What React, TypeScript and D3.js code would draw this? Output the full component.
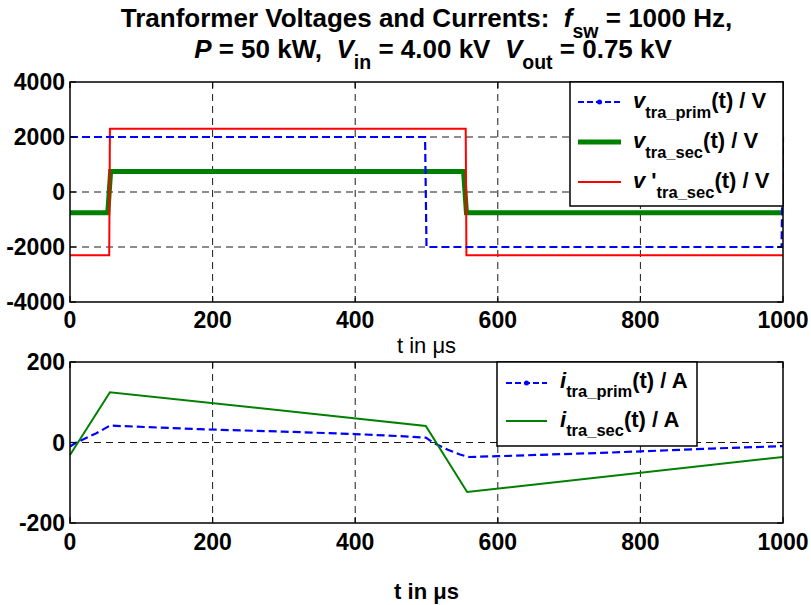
import React from 'react';
import * as d3 from 'd3';

const W = 811;
const H = 605;
const FONT = '"Liberation Sans", Arial, Helvetica, sans-serif';

// upper axes: transformer voltages in V over t in us
const tVPrim = [0, 498, 500, 998, 1000];
const vPrim = [2000, 2000, -2000, -2000, 2000];
const tVSec = [0, 53, 57, 552, 556, 1000];
const vSec = [-750, -750, 750, 750, -750, -750];
const tVSecRef = [0, 55, 56, 555, 556, 1000];
const vSecRef = [-2300, -2300, 2300, 2300, -2300, -2300];

// lower axes: transformer currents in A
const tIPrim = [0, 9, 37, 56, 112, 182, 300, 400, 460, 499, 509, 530, 547, 560, 600, 743, 900, 1000];
const iPrim = [-10, 0, 23, 42, 38, 33, 27, 21, 16, 12, 0, -18, -30, -36, -34, -26, -15, -9];
const tISec = [0, 56, 499, 557, 1000];
const iSec = [-31, 125, 41, -123, -36];

const xTicks = [0, 200, 400, 600, 800, 1000];
const vTicks = [-4000, -2000, 0, 2000, 4000];
const iTicks = [-200, 0, 200];

const x = d3.scaleLinear().domain([0, 1000]).range([70, 783]);
const yV = d3.scaleLinear().domain([-4000, 4000]).range([302, 82]);
const yI = d3.scaleLinear().domain([-200, 200]).range([523, 362]);

function path(t: number[], v: number[], y: d3.ScaleLinear<number, number>) {
  const line = d3.line<number>().x((_, i) => x(t[i])).y(d => y(d));
  return line(v) || '';
}

function Frame({ y, ticks, labelY }: { y: d3.ScaleLinear<number, number>; ticks: number[]; labelY: number }) {
  const [x0, x1] = x.range();
  const [y1, y0] = y.range();
  const tl = 6;
  return (
    <g>
      <rect x={x0} y={y0} width={x1 - x0} height={y1 - y0} fill="none" stroke="#000" strokeWidth={1.5} />
      {xTicks.map(t => (
        <g key={'x' + t}>
          <line x1={x(t)} x2={x(t)} y1={y1} y2={y1 - tl} stroke="#000" strokeWidth={1.2} />
          <line x1={x(t)} x2={x(t)} y1={y0} y2={y0 + tl} stroke="#000" strokeWidth={1.2} />
          <text x={x(t)} y={labelY} textAnchor="middle" fontSize={23} fontWeight="bold">{t}</text>
        </g>
      ))}
      {ticks.map(v => (
        <g key={'y' + v}>
          <line x1={x0} x2={x0 + tl} y1={y(v)} y2={y(v)} stroke="#000" strokeWidth={1.2} />
          <line x1={x1} x2={x1 - tl} y1={y(v)} y2={y(v)} stroke="#000" strokeWidth={1.2} />
          <text x={65} y={y(v)} dy="0.36em" textAnchor="end" fontSize={23} fontWeight="bold">{v}</text>
        </g>
      ))}
    </g>
  );
}

function Grid({ y, ticks }: { y: d3.ScaleLinear<number, number>; ticks: number[] }) {
  const [x0, x1] = x.range();
  const [y1, y0] = y.range();
  return (
    <g stroke="#000" strokeWidth={0.9} strokeDasharray="7,5">
      {xTicks.slice(1, -1).map(t => (
        <line key={'gx' + t} x1={x(t)} x2={x(t)} y1={y0} y2={y1} />
      ))}
      {ticks.slice(1, -1).map(v => (
        <line key={'gy' + v} x1={x0} x2={x1} y1={y(v)} y2={y(v)} />
      ))}
    </g>
  );
}

export default function App() {
  const sub = 10;
  const tSub = 11;
  return (
    <svg width={W} height={H} style={{ position: 'absolute', left: 0, top: 0, background: '#fff' }}
      fontFamily={FONT}>
      {/* title */}
      <text x={426.5} y={27} textAnchor="middle" fontSize={26} fontWeight="bold" style={{ whiteSpace: 'pre' }}>
        <tspan>{'Tranformer Voltages and Currents:  '}</tspan>
        <tspan fontStyle="italic">f</tspan>
        <tspan fontSize={19.5} dy={tSub}>sw</tspan>
        <tspan dy={-tSub}>{' = 1000 Hz,'}</tspan>
      </text>
      <text x={433} y={58} textAnchor="middle" fontSize={26} fontWeight="bold" style={{ whiteSpace: 'pre' }}>
        <tspan fontStyle="italic">P</tspan>
        <tspan>{' = 50 kW,  '}</tspan>
        <tspan fontStyle="italic">V</tspan>
        <tspan fontSize={19.5} dy={tSub}>in</tspan>
        <tspan dy={-tSub}>{' = 4.00 kV  '}</tspan>
        <tspan fontStyle="italic">V</tspan>
        <tspan fontSize={19.5} dy={tSub}>out</tspan>
        <tspan dy={-tSub}>{' = 0.75 kV'}</tspan>
      </text>

      {/* upper axes */}
      <Grid y={yV} ticks={vTicks} />
      <path d={path(tVSec, vSec, yV)} fill="none" stroke="#008000" strokeWidth={5} />
      <path d={path(tVSecRef, vSecRef, yV)} fill="none" stroke="#ff0000" strokeWidth={2} />
      <path d={path(tVPrim, vPrim, yV)} fill="none" stroke="#0000ff" strokeWidth={2.2} strokeDasharray="8,4" />
      <Frame y={yV} ticks={vTicks} labelY={328} />
      <text x={426.5} y={353} textAnchor="middle" fontSize={22}>t in μs</text>

      <g>
        <rect x={570} y={82} width={213} height={124} fill="#fff" stroke="#000" strokeWidth={1.5} />
        <line x1={578} x2={621} y1={102} y2={102} stroke="#0000ff" strokeWidth={2.2} strokeDasharray="6,3" />
        <circle cx={599.5} cy={102} r={2.5} fill="#0000ff" />
        <line x1={578} x2={621} y1={142} y2={142} stroke="#008000" strokeWidth={5} />
        <line x1={578} x2={621} y1={182} y2={182} stroke="#ff0000" strokeWidth={2} />
        <g fontSize={22} fontWeight="bold" style={{ whiteSpace: 'pre' }}>
          <text x={633} y={108}>
            <tspan fontStyle="italic">v</tspan>
            <tspan fontSize={16.5} dy={sub}>tra_prim</tspan>
            <tspan dy={-sub}>(t) / V</tspan>
          </text>
          <text x={633} y={148}>
            <tspan fontStyle="italic">v</tspan>
            <tspan fontSize={16.5} dy={sub}>tra_sec</tspan>
            <tspan dy={-sub}>(t) / V</tspan>
          </text>
          <text x={633} y={188}>
            <tspan fontStyle="italic">v</tspan>
            <tspan>{" '"}</tspan>
            <tspan fontSize={16.5} dy={sub}>tra_sec</tspan>
            <tspan dy={-sub}>(t) / V</tspan>
          </text>
        </g>
      </g>

      {/* lower axes */}
      <Grid y={yI} ticks={iTicks} />
      <path d={path(tIPrim, iPrim, yI)} fill="none" stroke="#0000ff" strokeWidth={2.2} strokeDasharray="8,4" />
      <path d={path(tISec, iSec, yI)} fill="none" stroke="#008000" strokeWidth={2} />
      <Frame y={yI} ticks={iTicks} labelY={550} />
      <text x={426.5} y={599} textAnchor="middle" fontSize={22} fontWeight="bold">t in μs</text>

      <g>
        <rect x={497} y={362} width={200} height={84} fill="#fff" stroke="#000" strokeWidth={1.5} />
        <line x1={506} x2={547} y1={383} y2={383} stroke="#0000ff" strokeWidth={2.2} strokeDasharray="6,3" />
        <circle cx={526.5} cy={383} r={2.5} fill="#0000ff" />
        <line x1={506} x2={547} y1={421} y2={421} stroke="#008000" strokeWidth={2} />
        <g fontSize={22} fontWeight="bold" style={{ whiteSpace: 'pre' }}>
          <text x={560} y={388}>
            <tspan fontStyle="italic">i</tspan>
            <tspan fontSize={16.5} dy={9}>tra_prim</tspan>
            <tspan dy={-9}>(t) / A</tspan>
          </text>
          <text x={560} y={427}>
            <tspan fontStyle="italic">i</tspan>
            <tspan fontSize={16.5} dy={9}>tra_sec</tspan>
            <tspan dy={-9}>(t) / A</tspan>
          </text>
        </g>
      </g>
    </svg>
  );
}
